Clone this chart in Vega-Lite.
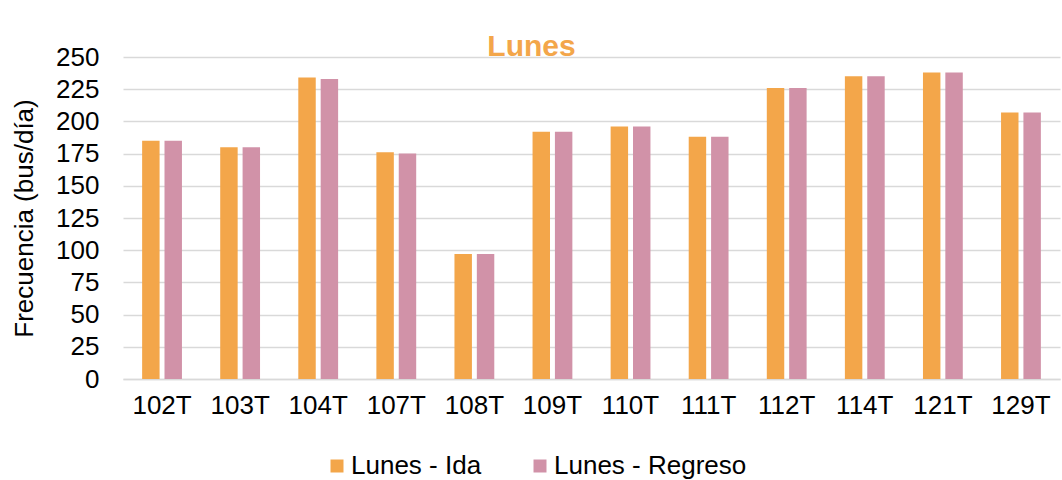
{
  "$schema": "https://vega.github.io/schema/vega-lite/v6.json",
  "width": 937,
  "height": 322,
  "autosize": "none",
  "padding": {"left": 123, "top": 57, "right": 2, "bottom": 101},
  "background": "white",
  "title": {
    "text": "Lunes",
    "color": "#F3A64A",
    "font": "Liberation Sans",
    "fontSize": 30,
    "fontWeight": "bold",
    "anchor": "middle",
    "frame": "group",
    "dx": -60,
    "baseline": "alphabetic",
    "offset": -42
  },
  "data": {
    "values": [
      {"ruta": "102T", "serie": "Lunes - Ida", "valor": 185},
      {"ruta": "102T", "serie": "Lunes - Regreso", "valor": 185},
      {"ruta": "103T", "serie": "Lunes - Ida", "valor": 180},
      {"ruta": "103T", "serie": "Lunes - Regreso", "valor": 180},
      {"ruta": "104T", "serie": "Lunes - Ida", "valor": 234},
      {"ruta": "104T", "serie": "Lunes - Regreso", "valor": 233},
      {"ruta": "107T", "serie": "Lunes - Ida", "valor": 176},
      {"ruta": "107T", "serie": "Lunes - Regreso", "valor": 175},
      {"ruta": "108T", "serie": "Lunes - Ida", "valor": 97},
      {"ruta": "108T", "serie": "Lunes - Regreso", "valor": 97},
      {"ruta": "109T", "serie": "Lunes - Ida", "valor": 192},
      {"ruta": "109T", "serie": "Lunes - Regreso", "valor": 192},
      {"ruta": "110T", "serie": "Lunes - Ida", "valor": 196},
      {"ruta": "110T", "serie": "Lunes - Regreso", "valor": 196},
      {"ruta": "111T", "serie": "Lunes - Ida", "valor": 188},
      {"ruta": "111T", "serie": "Lunes - Regreso", "valor": 188},
      {"ruta": "112T", "serie": "Lunes - Ida", "valor": 226},
      {"ruta": "112T", "serie": "Lunes - Regreso", "valor": 226},
      {"ruta": "114T", "serie": "Lunes - Ida", "valor": 235},
      {"ruta": "114T", "serie": "Lunes - Regreso", "valor": 235},
      {"ruta": "121T", "serie": "Lunes - Ida", "valor": 238},
      {"ruta": "121T", "serie": "Lunes - Regreso", "valor": 238},
      {"ruta": "129T", "serie": "Lunes - Ida", "valor": 207},
      {"ruta": "129T", "serie": "Lunes - Regreso", "valor": 207}
    ]
  },
  "mark": {"type": "bar"},
  "encoding": {
    "x": {
      "field": "ruta",
      "type": "nominal",
      "sort": null,
      "scale": {"paddingInner": 0.49, "paddingOuter": 0.245},
      "axis": {
        "title": null,
        "labelAngle": 0,
        "ticks": false,
        "labelPadding": 13,
        "labelFont": "Liberation Sans",
        "labelFontSize": 26,
        "labelColor": "#000000",
        "domainColor": "#D9D9D9",
        "domainWidth": 1.5
      }
    },
    "xOffset": {
      "field": "serie",
      "type": "nominal",
      "sort": ["Lunes - Ida", "Lunes - Regreso"],
      "scale": {"paddingInner": 0.22, "paddingOuter": 0}
    },
    "y": {
      "field": "valor",
      "type": "quantitative",
      "scale": {"domain": [0, 250], "nice": false},
      "axis": {
        "title": "Frecuencia (bus/día)",
        "titleFont": "Liberation Sans",
        "titleFontSize": 26,
        "titleFontWeight": "normal",
        "titleColor": "#000000",
        "titlePadding": 18,
        "values": [0, 25, 50, 75, 100, 125, 150, 175, 200, 225, 250],
        "labelFont": "Liberation Sans",
        "labelFontSize": 26,
        "labelColor": "#000000",
        "labelPadding": 24,
        "ticks": false,
        "domain": false,
        "grid": true,
        "gridColor": "#D9D9D9",
        "gridWidth": 1.5
      }
    },
    "color": {
      "field": "serie",
      "type": "nominal",
      "scale": {
        "domain": ["Lunes - Ida", "Lunes - Regreso"],
        "range": ["#F3A64A", "#D192A8"]
      },
      "legend": {
        "title": null,
        "orient": "none",
        "direction": "horizontal",
        "legendX": 201,
        "legendY": 396,
        "symbolType": "square",
        "symbolSize": 169,
        "symbolStrokeWidth": 0,
        "labelFont": "Liberation Sans",
        "labelFontSize": 26,
        "labelColor": "#000000",
        "labelOffset": 1,
        "labelLimit": 0,
        "columnPadding": 45
      }
    }
  },
  "config": {
    "view": {"stroke": null}
  }
}
